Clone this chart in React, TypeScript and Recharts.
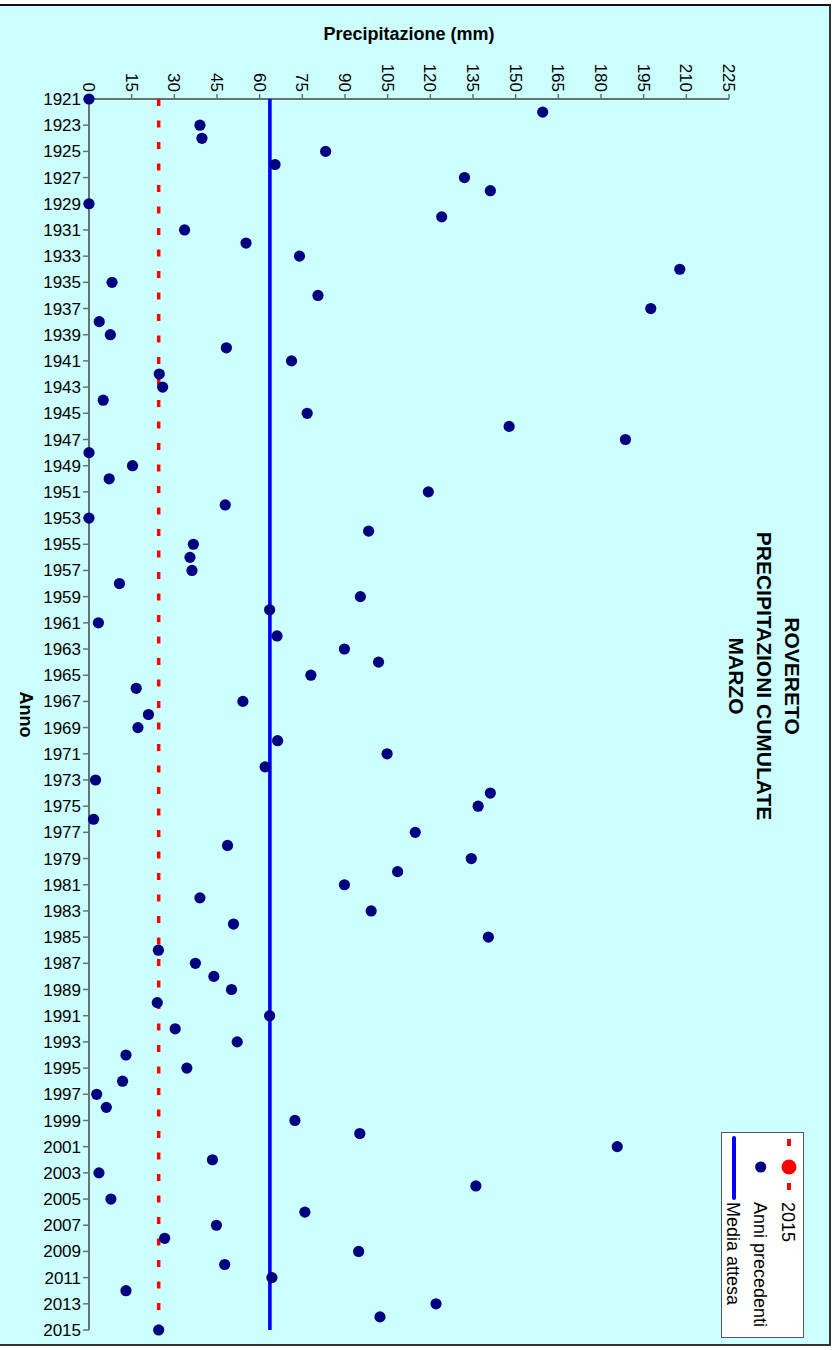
import React from 'react';
import { ScatterChart, Scatter, XAxis, YAxis, Legend } from 'recharts';

const years = [
  1921, 1922, 1923, 1924, 1925, 1926, 1927, 1928, 1929, 1930,
  1931, 1932, 1933, 1934, 1935, 1936, 1937, 1938, 1939, 1940,
  1941, 1942, 1943, 1944, 1945, 1946, 1947, 1948, 1949, 1950,
  1951, 1952, 1953, 1954, 1955, 1956, 1957, 1958, 1959, 1960,
  1961, 1962, 1963, 1964, 1965, 1966, 1967, 1968, 1969, 1970,
  1971, 1972, 1973, 1974, 1975, 1976, 1977, 1978, 1979, 1980,
  1981, 1982, 1983, 1984, 1985, 1986, 1987, 1988, 1989, 1990,
  1991, 1992, 1993, 1994, 1995, 1996, 1997, 1998, 1999, 2000,
  2001, 2002, 2003, 2004, 2005, 2006, 2007, 2008, 2009, 2010,
  2011, 2012, 2013, 2014, 2015,
];

const precipitation = [
  0, 159.5, 39.0, 39.7, 83.2, 65.4, 132.0, 141.1, 0, 124.0,
  33.6, 55.2, 74.0, 207.7, 8.1, 80.5, 197.5, 3.6, 7.5, 48.3,
  71.2, 24.7, 25.9, 5.0, 76.7, 147.7, 188.6, 0, 15.3, 7.1,
  119.3, 47.9, 0, 98.3, 36.7, 35.5, 36.2, 10.7, 95.4, 63.5,
  3.3, 66.1, 89.8, 101.8, 78.0, 16.6, 54.1, 20.9, 17.2, 66.3,
  104.8, 61.9, 2.3, 141.1, 136.8, 1.6, 114.7, 48.7, 134.4, 108.5,
  89.8, 39.0, 99.2, 50.8, 140.4, 24.4, 37.4, 43.9, 50.1, 24.0,
  63.5, 30.3, 52.1, 13.0, 34.4, 11.8, 2.7, 6.1, 72.4, 95.2,
  185.7, 43.4, 3.5, 136.0, 7.7, 75.9, 44.8, 26.6, 94.8, 47.7,
  64.3, 13.0, 122.0, 102.3, 24.5,
];

const mediaAttesa = 63.6;
const valore2015 = 24.5;

const xTicks = [0, 15, 30, 45, 60, 75, 90, 105, 120, 135, 150, 165, 180, 195, 210, 225];
const yTicks = [
  1921, 1923, 1925, 1927, 1929, 1931, 1933, 1935, 1937, 1939,
  1941, 1943, 1945, 1947, 1949, 1951, 1953, 1955, 1957, 1959,
  1961, 1963, 1965, 1967, 1969, 1971, 1973, 1975, 1977, 1979,
  1981, 1983, 1985, 1987, 1989, 1991, 1993, 1995, 1997, 1999,
  2001, 2003, 2005, 2007, 2009, 2011, 2013, 2015,
];

const legendLabels = ['2015', 'Anni precedenti', 'Media attesa'];
const titleLines = ['ROVERETO', 'PRECIPITAZIONI CUMULATE', 'MARZO'];

const FONT = '"Liberation Sans", Arial, Helvetica, sans-serif';
const AXIS = '#667373';
const NAVY = '#000080';
const BLUE = '#0000FF';
const RED = '#FF0000';

const pointData = years.map((y, i) => ({ year: y, mm: precipitation[i] }));
const firstYear = years[0];
const lastYear = years[years.length - 1];
const mediaData = [
  { year: firstYear, mm: mediaAttesa },
  { year: lastYear, mm: mediaAttesa },
];
const data2015 = [
  { year: firstYear, mm: valore2015 },
  { year: lastYear, mm: valore2015 },
];

const XTick = (props: any) => {
  const { x, y, payload } = props;
  return (
    <text
      x={0}
      y={0}
      transform={`translate(${x},${y}) rotate(90)`}
      textAnchor="end"
      dy="0.35em"
      fontSize={17}
      fontFamily={FONT}
      fill="#000"
    >
      {payload.value}
    </text>
  );
};

const Dot = (props: any) => {
  const { cx, cy } = props;
  if (cx == null || cy == null) return <g />;
  return <circle cx={cx} cy={cy} r={5.6} fill={NAVY} />;
};

const NoShape = () => <g />;

const LegendBox = () => (
  <svg width={83} height={206} style={{ display: 'block' }}>
    <rect x={0.5} y={0.5} width={82} height={205} fill="#FFFFFF" stroke="#555555" strokeWidth={1} />
    <line x1={68} y1={7} x2={68} y2={14} stroke={RED} strokeWidth={4} />
    <line x1={68} y1={51} x2={68} y2={58} stroke={RED} strokeWidth={4} />
    <circle cx={68} cy={35} r={7.5} fill={RED} />
    <text transform="translate(61,70) rotate(90)" fontSize={18} fontFamily={FONT} fill="#000">
      {legendLabels[0]}
    </text>
    <circle cx={39.7} cy={35} r={5.6} fill={NAVY} />
    <text transform="translate(33,70) rotate(90)" fontSize={18} fontFamily={FONT} fill="#000">
      {legendLabels[1]}
    </text>
    <line x1={13} y1={6} x2={13} y2={66} stroke={BLUE} strokeWidth={4} strokeLinecap="round" />
    <text transform="translate(6,70) rotate(90)" fontSize={18} fontFamily={FONT} fill="#000">
      {legendLabels[2]}
    </text>
  </svg>
);

export default function App() {
  return (
    <div style={{ position: 'absolute', left: 0, top: 0, width: 835, height: 1350, background: '#FFFFFF', overflow: 'hidden' }}>
      <div
        style={{
          position: 'absolute',
          left: -2,
          top: 4,
          width: 833,
          height: 1342,
          boxSizing: 'border-box',
          background: '#CCFFFF',
          borderTop: '2px solid #111111',
          borderRight: '2px solid #333333',
          borderBottom: '2px solid #333333',
        }}
      />
      <div style={{ position: 'absolute', left: 0, top: 0 }}>
        <ScatterChart width={835} height={1350} margin={{ top: 0, right: 106, bottom: 20, left: 0 }}>
          <XAxis
            type="number"
            dataKey="mm"
            orientation="top"
            domain={[0, 225]}
            ticks={xTicks}
            interval={0}
            height={99}
            axisLine={{ stroke: AXIS, strokeWidth: 2 }}
            tickLine={{ stroke: AXIS, strokeWidth: 1.5 }}
            tickSize={5}
            tick={(p: any) => <XTick {...p} />}
          />
          <YAxis
            type="number"
            dataKey="year"
            domain={[1921, 2015]}
            reversed
            ticks={yTicks}
            interval={0}
            width={89}
            axisLine={{ stroke: AXIS, strokeWidth: 2 }}
            tickLine={{ stroke: AXIS, strokeWidth: 1.5 }}
            tickSize={6}
            tick={{ fill: '#000', fontSize: 17, fontFamily: FONT }}
          />
          <Legend
            layout="horizontal"
            verticalAlign="middle"
            align="center"
            wrapperStyle={{ left: 721, top: 1132, width: 83, height: 206, margin: 0, padding: 0 }}
            content={() => <LegendBox />}
          />
          <Scatter
            name="2015"
            data={data2015}
            line={{ stroke: RED, strokeWidth: 3.5, strokeDasharray: '7 14.5' }}
            shape={NoShape}
            fill={RED}
            isAnimationActive={false}
          />
          <Scatter
            name="Media attesa"
            data={mediaData}
            line={{ stroke: BLUE, strokeWidth: 3.6 }}
            shape={NoShape}
            fill={BLUE}
            isAnimationActive={false}
          />
          <Scatter
            name="Anni precedenti"
            data={pointData}
            shape={Dot}
            fill={NAVY}
            isAnimationActive={false}
          />
        </ScatterChart>
      </div>
      <svg
        width={835}
        height={1350}
        style={{ position: 'absolute', left: 0, top: 0, pointerEvents: 'none' }}
      >
        <text x={409} y={40} textAnchor="middle" fontSize={18} fontWeight="bold" fontFamily={FONT} fill="#000">
          Precipitazione (mm)
        </text>
        <text transform="translate(20,714.5) rotate(90)" textAnchor="middle" fontSize={18} fontWeight="bold" fontFamily={FONT} fill="#000">
          Anno
        </text>
        {titleLines.map((line, i) => (
          <text
            key={line}
            transform={`translate(${785 - i * 28},676) rotate(90)`}
            textAnchor="middle"
            fontSize={21}
            fontWeight="bold"
            fontFamily={FONT}
            fill="#000"
          >
            {line}
          </text>
        ))}
      </svg>
    </div>
  );
}
